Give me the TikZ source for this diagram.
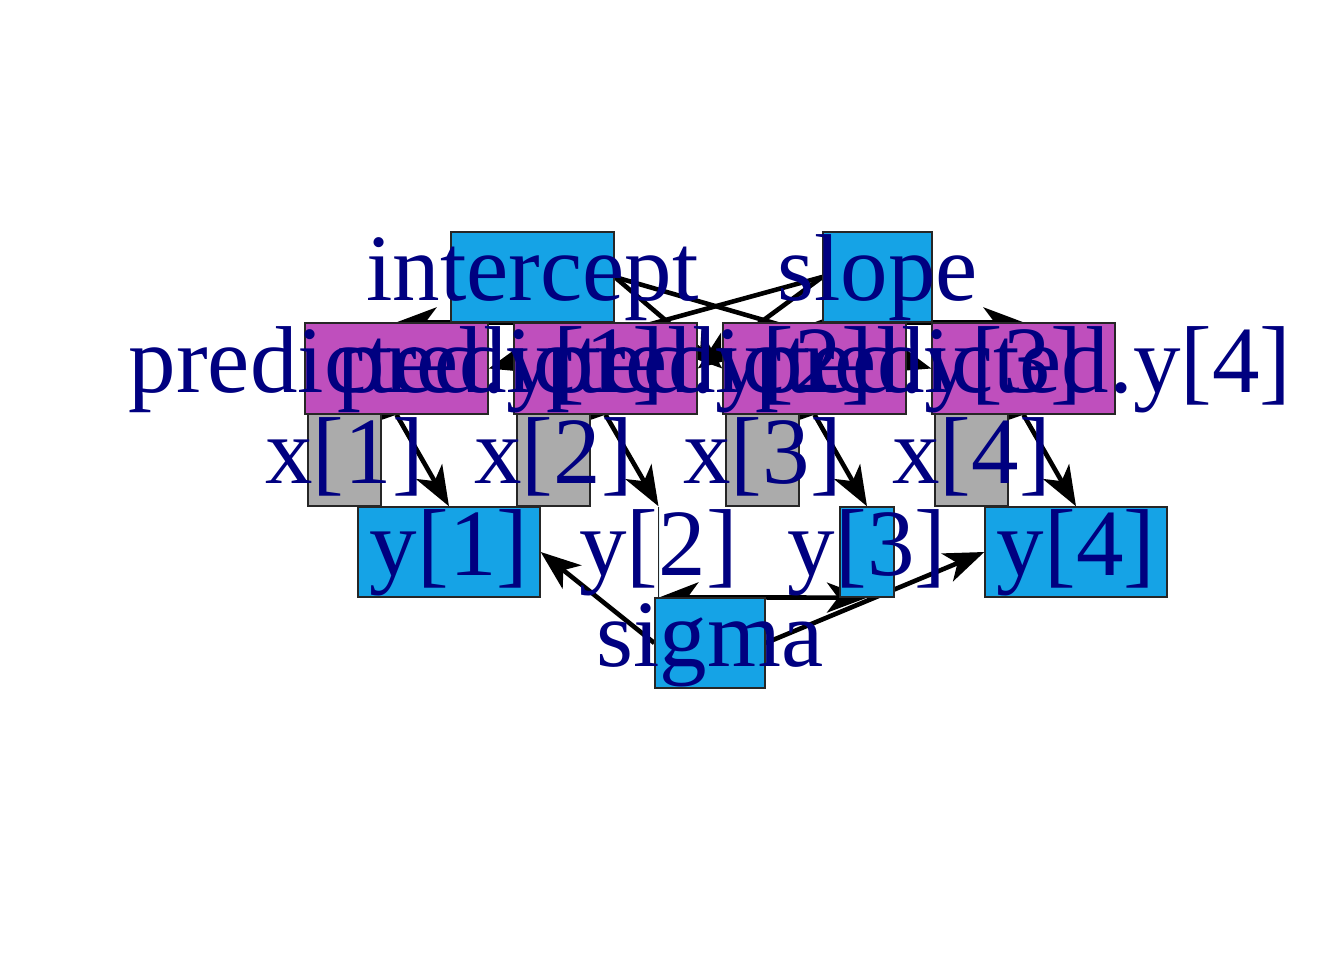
\documentclass[tikz,border=0pt]{standalone}
\usepackage{fontspec}
\setmainfont{Liberation Serif}
\usetikzlibrary{arrows.meta}
\pgfdeclarelayer{edgelayer}
\pgfdeclarelayer{labellayer}
\pgfsetlayers{edgelayer,main,labellayer}
\definecolor{nblue}{RGB}{21,163,230}
\definecolor{nmag}{RGB}{191,79,189}
\definecolor{ngray}{RGB}{171,171,171}
\definecolor{nnavy}{RGB}{0,0,128}
\begin{document}
\begin{tikzpicture}[x=1pt,y=-1pt,
  box/.style={rectangle, draw=black!85, line width=1.4pt, inner sep=0pt, minimum height=90pt},
  stoch/.style={box, fill=nblue},
  determ/.style={box, fill=nmag, minimum height=91pt, minimum width=183pt},
  datab/.style={box, fill=ngray, minimum height=92pt, minimum width=73pt},
  lab/.style={anchor=base, inner sep=0pt, text=nnavy, font=\fontsize{95}{95}\selectfont},
  conn/.style={line width=4.6pt, -{Stealth[length=40pt,width=30pt,inset=11pt]}}]
\useasboundingbox (0,0) rectangle (1344,960);
\begin{pgfonlayer}{edgelayer}
\fill[white] (0,0) rectangle (1344,960);
\end{pgfonlayer}
% boxes
\node[stoch, minimum width=163pt] (intercept) at (532.5,277) {};
\node[stoch, minimum width=109pt] (slope) at (877.5,277) {};
\node[determ] (p1) at (396.5,368.5) {};
\node[determ] (p2) at (605.5,368.5) {};
\node[determ] (p3) at (814.5,368.5) {};
\node[determ] (p4) at (1023.5,368.5) {};
\node[datab] (x1) at (344.5,460) {};
\node[datab] (x2) at (553.5,460) {};
\node[datab] (x3) at (762.5,460) {};
\node[datab] (x4) at (971.5,460) {};
\node[stoch, minimum width=182pt] (y1) at (449,552) {};
\node[stoch, minimum width=0pt] (y2) at (658.5,552) {};
\node[stoch, minimum width=54pt] (y3) at (867,552) {};
\node[stoch, minimum width=182pt] (y4) at (1076,552) {};
\node[stoch, minimum width=110pt] (sigma) at (710,643) {};
% edges
\begin{pgfonlayer}{edgelayer}
\draw[conn] (intercept.south) -- (p1.north);
\draw[conn] (intercept.south) -- (p2.north);
\draw[conn] (intercept.east) -- (p3.west);
\draw[conn] (intercept.east) -- (p4.west);
\draw[conn] (slope.west) -- (p1.east);
\draw[conn] (slope.west) -- (p2.east);
\draw[conn] (slope.south) -- (p3.north);
\draw[conn] (slope.south) -- (p4.north);
\draw[conn] (x1.north) -- (p1.south);
\draw[conn] (x2.north) -- (p2.south);
\draw[conn] (x3.north) -- (p3.south);
\draw[conn] (x4.north) -- (p4.south);
\draw[conn] (p1.south) -- (y1.north);
\draw[conn] (p2.south) -- (y2.north);
\draw[conn] (p3.south) -- (y3.north);
\draw[conn] (p4.south) -- (y4.north);
\draw[conn] (sigma.west) -- (y1.east);
\draw[conn] (sigma.north) -- (y2.south);
\draw[conn] (sigma.north) -- (y3.south);
\draw[conn] (sigma.east) -- (y4.west);
\end{pgfonlayer}
% labels
\begin{pgfonlayer}{labellayer}
\node[lab] (lintercept) at ([yshift=-23.5pt]intercept.center) {intercept};
\node[lab] (lslope) at ([yshift=-23.5pt]slope.center) {slope};
\node[lab] (lp1) at ([yshift=-23.5pt]p1.center) {predicted.y[1]};
\node[lab] (lp2) at ([yshift=-23.5pt]p2.center) {predicted.y[2]};
\node[lab] (lp3) at ([yshift=-23.5pt]p3.center) {predicted.y[3]};
\node[lab] (lp4) at ([yshift=-23.5pt]p4.center) {predicted.y[4]};
\node[lab] (lx1) at ([yshift=-23.5pt]x1.center) {x[1]};
\node[lab] (lx2) at ([yshift=-23.5pt]x2.center) {x[2]};
\node[lab] (lx3) at ([yshift=-23.5pt]x3.center) {x[3]};
\node[lab] (lx4) at ([yshift=-23.5pt]x4.center) {x[4]};
\node[lab] (ly1) at ([yshift=-23.5pt]y1.center) {y[1]};
\node[lab] (ly2) at ([yshift=-23.5pt]y2.center) {y[2]};
\node[lab] (ly3) at ([yshift=-23.5pt]y3.center) {y[3]};
\node[lab] (ly4) at ([yshift=-23.5pt]y4.center) {y[4]};
\node[lab] (lsigma) at ([yshift=-23.5pt]sigma.center) {sigma};
\end{pgfonlayer}
\end{tikzpicture}
\end{document}
